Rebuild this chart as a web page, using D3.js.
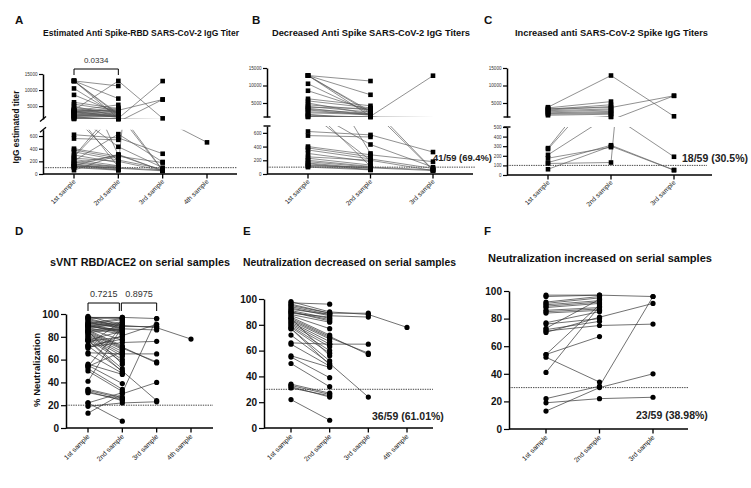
<!DOCTYPE html>
<html><head><meta charset="utf-8">
<script src="https://cdn.jsdelivr.net/npm/d3@7"></script>
<style>
body{margin:0;background:#fff}
svg{display:block}
text{font-family:"Liberation Sans",Arial,Helvetica,sans-serif}
</style>
</head><body>
<svg id="chart" width="751" height="488"></svg>
<script>
// ---------------- DATA ----------------
const categories = ["1st sample", "2nd sample", "3rd sample", "4th sample"];

// IgG estimated titer per patient: [1st, 2nd, 3rd, 4th]
const titerDecreased = [
  [12850, 11280, null], [12850, 7350, null], [12850, 2600, null], [12850, 1200, 12800],
  [12850, 2200, null], [10500, 2000, null], [8500, 2800, null], [6200, 4200, null],
  [5600, 3600, null], [5000, 1800, null], [4500, 3000, null], [4000, 2400, null],
  [3800, 3400, null], [3500, 1600, null], [3200, 2000, null], [3000, 1500, null],
  [2500, 1900, null], [2200, 1700, null], [1800, 300, null], [1500, 950, 55],
  [1100, 1000, 60], [1200, 1000, 860, 500], [900, 200, null], [950, 430, 100],
  [620, 570, 320], [560, 540, null], [400, 280, 180], [380, 250, null],
  [350, 220, 80], [300, 180, null], [250, 200, 50], [230, 130, null],
  [200, 110, null], [180, 100, 60], [160, 80, null], [150, 60, null],
  [130, 90, 50], [120, 100, null], [110, 70, null], [100, 60, null], [1000, 110, null]
];
const titerIncreased = [
  [3800, 12850, 1200], [3600, 5400, null], [3400, 3700, 7060], [3200, 4500, null],
  [3000, 4000, null], [2800, 3300, null], [2500, 3000, null], [2200, 2600, null],
  [2000, 2300, null], [1800, 2000, null], [1500, 1800, null], [280, 1100, null],
  [270, 1000, null], [210, 630, 190], [130, 310, 52], [60, 300, 50],
  [120, 130, 7060], [175, 290, null]
];

// % neutralization per patient: [1st, 2nd, 3rd, 4th]
const neutDecreased = [
  [98, 90, 88, 78], [97, 96], [95, 89, 89], [93, 87, 86], [92, 88], [91, 85],
  [90, 84], [90, 83], [89, 86], [88, 82], [87, 77], [86, 72], [85, 71, 57],
  [84, 70, 58], [83, 69], [82, 67], [80, 63], [79, 60], [78, 58], [77, 52],
  [77, 49], [72, 50, 24], [66, 65, 65], [65, 48], [56, 47], [55, 39], [50, 32],
  [34, 27], [33, 26], [31, 25], [32, 24], [22, 6], [94, 88], [96, 89], [85, 56], [81, 65]
];
const neutIncreased = [
  [97, 97, 96], [92, 96], [91, 95], [90, 93], [89, 92], [88, 91], [86, 88],
  [85, 87], [84, 86], [77, 85], [76, 80], [73, 94], [72, 78], [71, 75, 76],
  [70, 81, 91], [54, 67], [54, 90], [52, 34], [41, 89], [22, 31, 96],
  [19, 22, 23], [13, 30, 40], [96, 97]
];

const titerUpperTicks = [5000, 10000, 15000];
const titerLowerTicksAB = [0, 200, 400, 600];
const titerLowerTicksC = [0, 100, 200, 300, 400, 500];
const neutTicks = [0, 20, 40, 60, 80, 100];

// ---------------- DRAWING ----------------
const svg = d3.select("#chart");
const defs = svg.append("defs");
const fmt = d3.format("d");

function catAxis(g, x, cats, axX, axEnd, base, fs, lblDy) {
  g.append("line").attr("x1", axX).attr("x2", axEnd).attr("y1", base).attr("y2", base)
    .attr("stroke", "#000").attr("stroke-width", 1.5);
  cats.forEach(c => {
    g.append("line").attr("x1", x(c)).attr("x2", x(c)).attr("y1", base).attr("y2", base + 4.5)
      .attr("stroke", "#000").attr("stroke-width", 1.3);
    g.append("text").attr("transform", `translate(${x(c) + 2},${base + lblDy}) rotate(-45)`)
      .attr("text-anchor", "end").attr("font-size", fs).attr("fill", "#222").text(c);
  });
}

function styleAxis(sel, fs, bold, col) {
  sel.select(".domain").attr("stroke", "#000").attr("stroke-width", 1.5);
  sel.selectAll(".tick line").attr("stroke", "#000").attr("stroke-width", 1.2);
  sel.selectAll(".tick text").attr("font-size", fs).attr("font-weight", bold ? "bold" : "normal")
    .attr("fill", col).attr("font-family", '"Liberation Sans",Arial,sans-serif');
}

function rowsPts(rows, n) {
  return rows.map(r => r.slice(0, n).map((v, i) => [v, i]).filter(d => d[0] != null));
}

function topPanel(o) {
  const g = svg.append("g");
  const cats = categories.slice(0, o.n);
  const x = d3.scalePoint().domain(cats).range([o.cx0, o.cx1]);
  const yU = d3.scaleLinear().domain([1000, 15000]).range(o.uRange);
  const yL = d3.scaleLinear().domain([0, o.lMax]).range(o.lRange);
  const rows = rowsPts(o.data, o.n);
  const w = o.axEnd - o.axX;
  defs.append("clipPath").attr("id", o.id + "U").append("rect")
    .attr("x", o.axX).attr("y", o.uRange[1] - 6).attr("width", w).attr("height", o.uRange[0] - o.uRange[1] + 6);
  defs.append("clipPath").attr("id", o.id + "L").append("rect")
    .attr("x", o.axX).attr("y", o.lRange[1]).attr("width", w).attr("height", o.lRange[0] - o.lRange[1]);

  // dashed threshold
  g.append("line").attr("x1", o.axX).attr("x2", o.dashEnd).attr("y1", yL(100)).attr("y2", yL(100))
    .attr("stroke", "#333").attr("stroke-width", 0.9).attr("stroke-dasharray", "1.4,1");

  [[yU, "U"], [yL, "L"]].forEach(([ys, k]) => {
    const lg = g.append("g").attr("clip-path", `url(#${o.id + k})`);
    const line = d3.line().x(d => x(cats[d[1]])).y(d => ys(d[0]));
    rows.forEach(p => {
      if (p.length > 1) lg.append("path").attr("d", line(p)).attr("fill", "none")
        .attr("stroke", "#555").attr("stroke-width", 0.65);
    });
  });
  const s = 4.6;
  rows.forEach(p => p.forEach(d => {
    let y = null;
    if (d[0] >= 1000 && d[0] <= 15000) y = yU(d[0]);
    else if (d[0] <= o.lMax) y = yL(d[0]);
    if (y != null) g.append("rect").attr("x", x(cats[d[1]]) - s / 2).attr("y", y - s / 2)
      .attr("width", s).attr("height", s).attr("fill", "#000");
  }));

  // y axes
  const au = g.append("g").attr("transform", `translate(${o.axX},0)`)
    .call(d3.axisLeft(yU).tickValues(titerUpperTicks).tickFormat(fmt).tickSize(4).tickSizeOuter(0).tickPadding(1.5));
  styleAxis(au, 4.6, false, "#333");
  const al = g.append("g").attr("transform", `translate(${o.axX},0)`)
    .call(d3.axisLeft(yL).tickValues(o.lTicks).tickFormat(fmt).tickSize(4).tickSizeOuter(0).tickPadding(1.5));
  styleAxis(al, 4.6, false, "#333");

  // break marks
  if (o.brk === "slash") {
    [o.uRange[0], o.lRange[1]].forEach(yy => {
      g.append("line").attr("x1", o.axX - 3).attr("x2", o.axX + 3).attr("y1", yy + 2.5).attr("y2", yy - 2.5)
        .attr("stroke", "#000").attr("stroke-width", 1.3);
    });
  } else {
    [o.uRange[0], o.lRange[1]].forEach(yy => {
      g.append("line").attr("x1", o.axX - 3.5).attr("x2", o.axX + 3.5).attr("y1", yy).attr("y2", yy)
        .attr("stroke", "#000").attr("stroke-width", 1.4);
    });
  }

  catAxis(g, x, cats, o.axX, o.axEnd, o.lRange[0], 6.6, 8);

  // title
  g.append("text").attr("x", o.tx).attr("y", 36).attr("font-size", 8.6).attr("font-weight", "bold")
    .attr("textLength", o.tw).attr("lengthAdjust", "spacingAndGlyphs").attr("fill", "#111").text(o.title);
  g.append("text").attr("x", o.lx).attr("y", 24).attr("font-size", 11.5).attr("font-weight", "bold")
    .attr("fill", "#111").text(o.letter);
  if (o.note) g.append("text").attr("x", o.note[0]).attr("y", o.note[1]).attr("font-size", o.note[3] || 10.5)
    .attr("font-weight", "bold").attr("fill", "#222").text(o.note[2]);
  if (o.bracket) {
    const [i0, i1, txt] = o.bracket;
    const x0 = x(cats[i0]), x1 = x(cats[i1]);
    g.append("path").attr("d", `M${x0},75V69H${x1}V75`).attr("fill", "none").attr("stroke", "#000").attr("stroke-width", 1);
    g.append("text").attr("x", (x0 + x1) / 2).attr("y", 63).attr("text-anchor", "middle")
      .attr("font-size", 8).attr("fill", "#333").text(txt);
  }
  return g;
}

function bottomPanel(o) {
  const g = svg.append("g");
  const cats = categories.slice(0, o.n);
  const x = d3.scalePoint().domain(cats).range([o.cx0, o.cx1]);
  const y = d3.scaleLinear().domain([0, 100]).range(o.yRange);
  const rows = rowsPts(o.data, o.n);

  g.append("line").attr("x1", o.axX).attr("x2", o.axEnd).attr("y1", y(o.thr)).attr("y2", y(o.thr))
    .attr("stroke", "#333").attr("stroke-width", 0.9).attr("stroke-dasharray", "1.4,1");
  const line = d3.line().x(d => x(cats[d[1]])).y(d => y(d[0]));
  rows.forEach(p => {
    if (p.length > 1) g.append("path").attr("d", line(p)).attr("fill", "none")
      .attr("stroke", "#333").attr("stroke-width", 0.7);
  });
  rows.forEach(p => p.forEach(d => {
    g.append("circle").attr("cx", x(cats[d[1]])).attr("cy", y(d[0])).attr("r", 2.6).attr("fill", "#000");
  }));
  const ay = g.append("g").attr("transform", `translate(${o.axX},0)`)
    .call(d3.axisLeft(y).tickValues(neutTicks).tickSize(5).tickSizeOuter(0).tickPadding(2));
  styleAxis(ay, 10, true, "#111");
  catAxis(g, x, cats, o.axX, o.axEnd, o.yRange[0], 6.8, 9);

  g.append("text").attr("x", o.tx).attr("y", o.ty).attr("font-size", 10.5).attr("font-weight", "bold")
    .attr("textLength", o.tw).attr("lengthAdjust", "spacingAndGlyphs").attr("fill", "#111").text(o.title);
  g.append("text").attr("x", o.lx).attr("y", 235).attr("font-size", 11.5).attr("font-weight", "bold")
    .attr("fill", "#111").text(o.letter);
  if (o.note) g.append("text").attr("x", o.note[0]).attr("y", o.note[1]).attr("font-size", 10.5)
    .attr("font-weight", "bold").attr("fill", "#222").text(o.note[2]);
  (o.brackets || []).forEach(([i0, i1, txt, inset0, inset1]) => {
    const x0 = x(cats[i0]) + inset0, x1 = x(cats[i1]) + inset1;
    g.append("path").attr("d", `M${x0},311V303H${x1}V311`).attr("fill", "none").attr("stroke", "#000").attr("stroke-width", 1);
    g.append("text").attr("x", (x0 + x1) / 2).attr("y", 297).attr("text-anchor", "middle")
      .attr("font-size", 9).attr("fill", "#333").text(txt);
  });
  return g;
}

// Panel A
topPanel({ id: "pa", data: titerDecreased.concat(titerIncreased), n: 4, axX: 43, axEnd: 237, cx0: 74, cx1: 207,
  uRange: [119, 74], lMax: 700, lRange: [174, 129.7], lTicks: titerLowerTicksAB, dashEnd: 237, brk: "slash",
  title: "Estimated Anti Spike-RBD SARS-CoV-2 IgG Titer", tx: 43, tw: 196, letter: "A", lx: 15,
  bracket: [0, 1, "0.0334"] });
// Panel B
topPanel({ id: "pb", data: titerDecreased, n: 3, axX: 267, axEnd: 473, cx0: 308, cx1: 433,
  uRange: [117, 68], lMax: 700, lRange: [174, 126], lTicks: titerLowerTicksAB, dashEnd: 475, brk: "cap",
  title: "Decreased Anti Spike SARS-CoV-2 IgG Titers", tx: 272, tw: 198, letter: "B", lx: 252,
  note: [433, 161, "41/59 (69.4%)", 9.4] });
// Panel C
topPanel({ id: "pc", data: titerIncreased, n: 3, axX: 507, axEnd: 712, cx0: 548, cx1: 674,
  uRange: [117, 68], lMax: 500, lRange: [175, 127], lTicks: titerLowerTicksC, dashEnd: 707, brk: "cap",
  title: "Increased anti SARS-CoV-2 Spike IgG Titers", tx: 515, tw: 193, letter: "C", lx: 484,
  note: [682, 162, "18/59 (30.5%)"] });

// Y label top
svg.append("text").attr("transform", "translate(19,127) rotate(-90)").attr("text-anchor", "middle")
  .attr("font-size", 8.3).attr("font-weight", "bold").attr("fill", "#111").text("IgG estimated titer");

// Panel D
bottomPanel({ data: neutDecreased.concat(neutIncreased), n: 4, axX: 66, axEnd: 213, cx0: 88, cx1: 191,
  yRange: [428, 314], thr: 20, title: "sVNT RBD/ACE2 on serial samples", tx: 50, ty: 266, tw: 180,
  letter: "D", lx: 15, brackets: [[0, 1, "0.7215", 0, -3], [1, 2, "0.8975", -1, 0]] });
// Panel E
bottomPanel({ data: neutDecreased, n: 4, axX: 264, axEnd: 433, cx0: 291, cx1: 407,
  yRange: [428, 299], thr: 30, title: "Neutralization decreased on serial samples", tx: 243, ty: 266, tw: 213,
  letter: "E", lx: 243, note: [372, 420, "36/59 (61.01%)"] });
// Panel F
bottomPanel({ data: neutIncreased, n: 3, axX: 509, axEnd: 688, cx0: 546, cx1: 653,
  yRange: [429, 291], thr: 30, title: "Neutralization increased on serial samples", tx: 488, ty: 262, tw: 224,
  letter: "F", lx: 484, note: [636, 419, "23/59 (38.98%)"] });

svg.append("text").attr("transform", "translate(40,370) rotate(-90)").attr("text-anchor", "middle")
  .attr("font-size", 9.5).attr("font-weight", "bold").attr("fill", "#111").text("% Neutralization");
</script>
</body></html>
